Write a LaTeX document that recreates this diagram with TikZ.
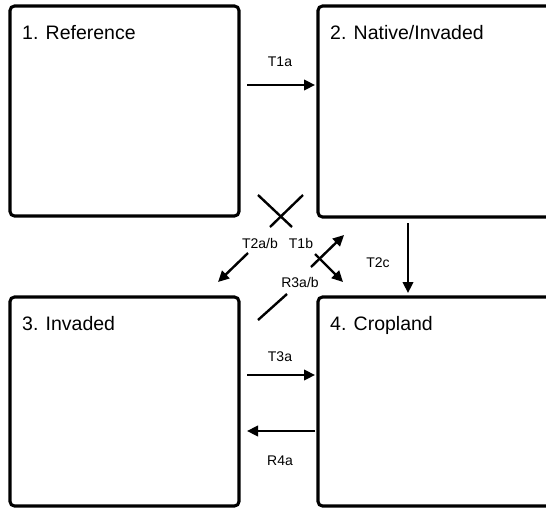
\documentclass[tikz,border=0pt]{standalone}
\usepackage{fontspec}
\setmainfont{Liberation Sans}
\usetikzlibrary{arrows.meta}
\begin{document}
\begin{tikzpicture}[x=1pt,y=-1pt,
 box/.style={draw, line width=3.1pt, rounded corners=4.5pt, anchor=north west, inner sep=0, outer sep=0},
 title/.style={anchor=base west, inner sep=0, font=\fontsize{19.5}{22}\selectfont},
 lab/.style={inner sep=0, font=\fontsize{14}{16}\selectfont},
 arr/.style={line width=2.4pt, -{Triangle[length=11pt,width=10.5pt]}},
 ln/.style={line width=2.4pt}]
\useasboundingbox (0,0) rectangle (546,509);
\clip (0,0) rectangle (546,509);
% boxes
\node[box, minimum width=229pt, minimum height=210pt] (b1) at (10,6) {};
\node[box, minimum width=242pt, minimum height=211pt] (b2) at (318,6) {};
\node[box, minimum width=229pt, minimum height=209pt] (b3) at (10,297) {};
\node[box, minimum width=242pt, minimum height=209pt] (b4) at (318,297) {};
% titles
\node[title] (t1) at (22,39.5) {1. Reference};
\node[title] (t2) at (330,39.5) {2. Native/Invaded};
\node[title] (t3) at (22,330.5) {3. Invaded};
\node[title] (t4) at (330,330.5) {4. Cropland};
% coordinates
\coordinate (a1s) at (247,85);  \coordinate (a1e) at (315,85);
\coordinate (a3s) at (247,375); \coordinate (a3e) at (315,375);
\coordinate (a4s) at (315,431); \coordinate (a4e) at (247,431);
\coordinate (a2cs) at (408,223); \coordinate (a2ce) at (408,293);
\coordinate (x1s) at (258,195); \coordinate (x1e) at (292,227);
\coordinate (x2s) at (303,195); \coordinate (x2e) at (270,227);
\coordinate (dls) at (248,253); \coordinate (dle) at (218,282);
\coordinate (urs) at (311,267); \coordinate (ure) at (344,235);
\coordinate (drs) at (315,254); \coordinate (dre) at (343,282);
\coordinate (r3s) at (287,294); \coordinate (r3e) at (258,320);
% connectors
\draw[arr] (a1s) -- (a1e);
\draw[arr] (a3s) -- (a3e);
\draw[arr] (a4s) -- (a4e);
\draw[arr] (a2cs) -- (a2ce);
\draw[ln] (x1s) -- (x1e);
\draw[ln] (x2s) -- (x2e);
\draw[arr] (dls) -- (dle);
\draw[arr] (urs) -- (ure);
\draw[arr] (drs) -- (dre);
\draw[ln] (r3s) -- (r3e);
% labels
\node[lab] (l1a) at (280,62) {T1a};
\node[lab] (l3a) at (280,357) {T3a};
\node[lab] (l4a) at (280,461) {R4a};
\node[lab] (l2c) at (378,263) {T2c};
\node[lab] (l2ab) at (260,243) {T2a/b};
\node[lab] (l1b) at (301,243) {T1b};
\node[lab] (lr3) at (300,282) {R3a/b};
\end{tikzpicture}
\end{document}
